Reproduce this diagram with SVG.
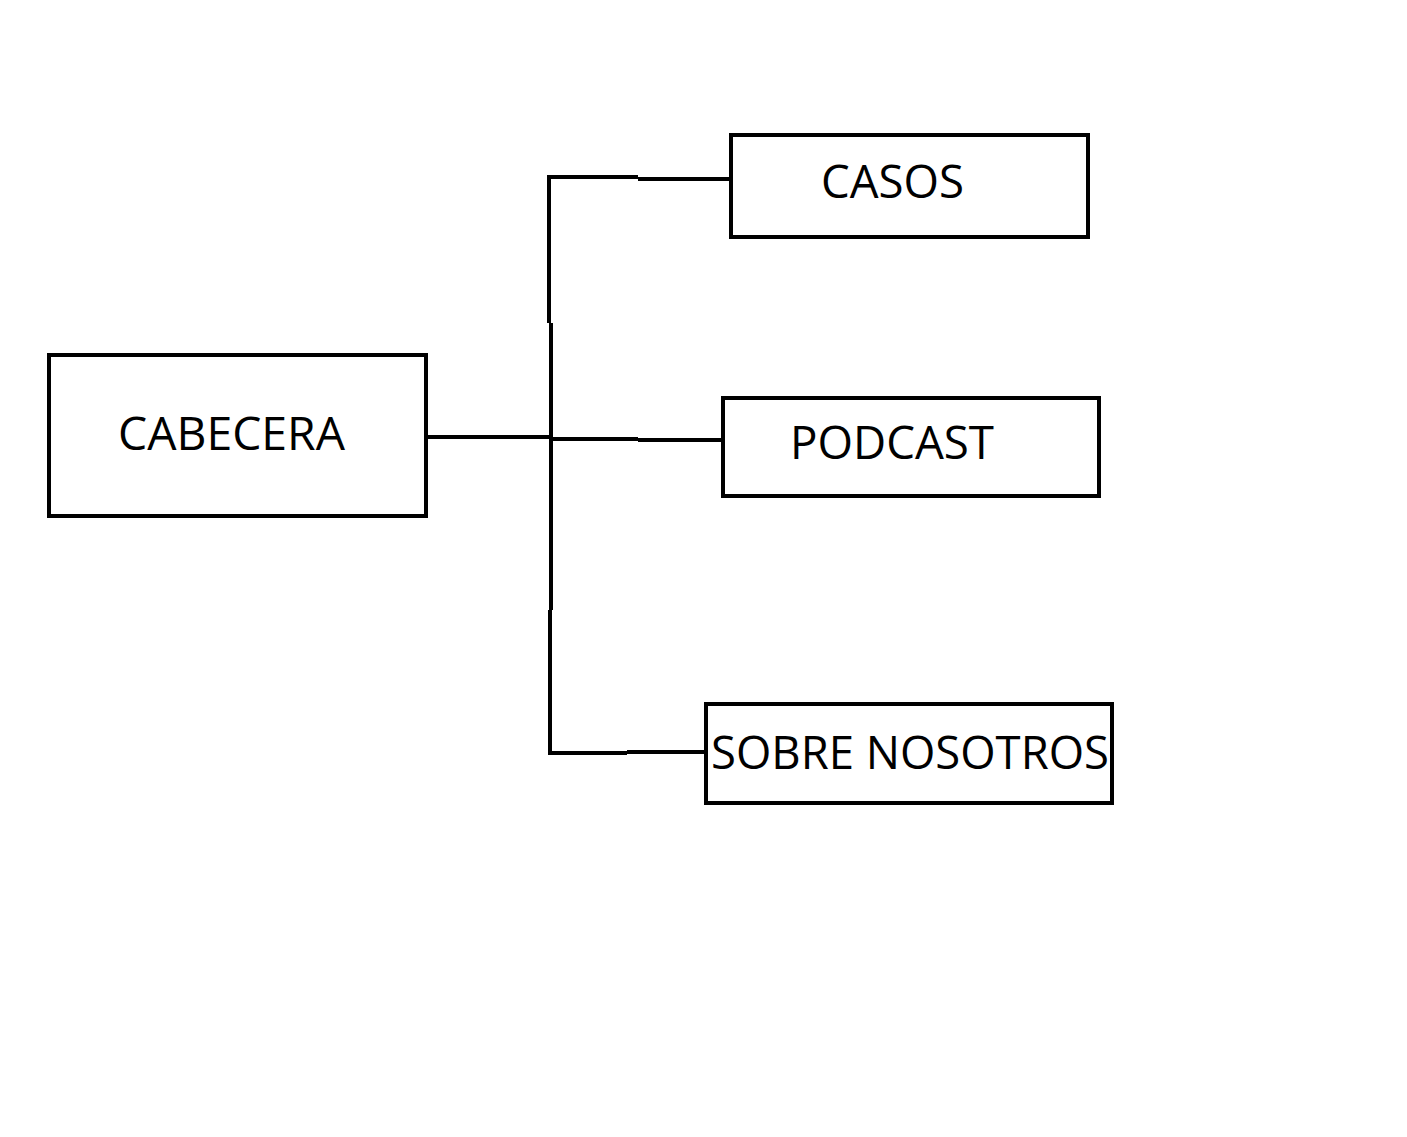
<svg xmlns="http://www.w3.org/2000/svg" width="1407" height="1137" viewBox="0 0 1407 1137">
<style>
.box{fill:#fff;stroke:#000;stroke-width:4}
.lbl{font-family:"Open Sans","Noto Sans","Liberation Sans",sans-serif;font-size:46px;fill:#000}
.con{fill:none;stroke:#000;stroke-width:4;stroke-linecap:butt}
</style>
<rect width="1407" height="1137" fill="#fff"/>
<g id="connectors">
<path class="con" d="M549 177 V323 M551 323 V610 M550 610 V753"/>
<path class="con" d="M547 177 H638 M638 179 H731"/>
<path class="con" d="M426 437 H551 M551 439 H638 M638 440 H725"/>
<path class="con" d="M548 753 H627 M627 752 H706"/>
</g>
<g id="cabecera">
<rect class="box" x="49" y="355" width="377" height="161"/>
<text class="lbl" x="118" y="450" textLength="227" lengthAdjust="spacingAndGlyphs">CABECERA</text>
</g>
<g id="casos">
<rect class="box" x="731" y="135" width="357" height="102"/>
<text class="lbl" x="821" y="198" textLength="143" lengthAdjust="spacingAndGlyphs">CASOS</text>
</g>
<g id="podcast">
<rect class="box" x="723" y="398" width="376" height="98"/>
<text class="lbl" x="790" y="459" textLength="204" lengthAdjust="spacingAndGlyphs">PODCAST</text>
</g>
<g id="sobre">
<rect class="box" x="706" y="704" width="406" height="99"/>
<text class="lbl" x="711" y="769" textLength="398" lengthAdjust="spacingAndGlyphs">SOBRE NOSOTROS</text>
</g>
</svg>
